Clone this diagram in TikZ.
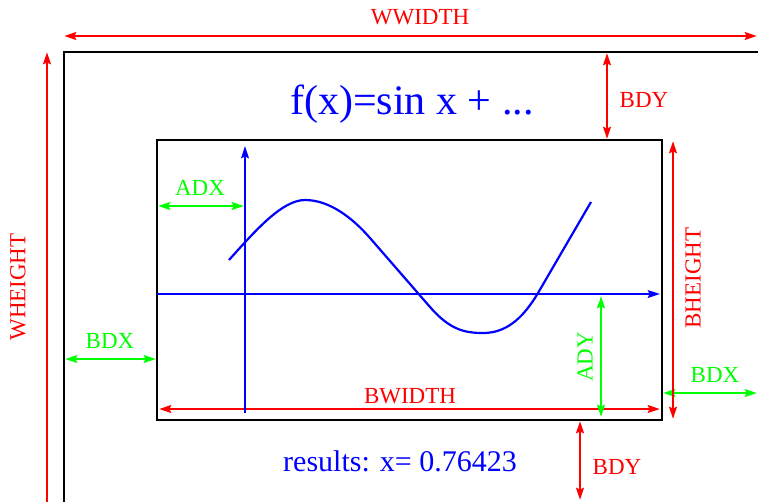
\documentclass[tikz,border=0pt]{standalone}
\usepackage{fontspec}
\setmainfont{Liberation Serif}
\usetikzlibrary{arrows.meta, positioning, calc}
\definecolor{dimred}{HTML}{FF0000}
\definecolor{dimgreen}{HTML}{00FF00}
\definecolor{plotblue}{HTML}{0000FF}
\tikzset{
  tip/.tip={Stealth[length=12pt,width=7.5pt,inset=1.5pt]},
  dimline/.style={line width=2.8pt, tip-tip},
  dimhalf/.style={line width=2.8pt, tip-},
  frame/.style={draw=black, line width=2.4pt},
  lbl/.style={font=\fontsize{23}{27}\selectfont, inner sep=0pt},
}
\begin{document}
\begin{tikzpicture}[x=1pt,y=-1pt]
  \useasboundingbox (0,0) rectangle (758,501);
  \clip (0,0) rectangle (758,501);
  % window and inner box
  \coordinate (wtl) at (64,52);
  \coordinate (btl) at (157,140);
  \coordinate (bbr) at (662,420);
  \draw[frame] (wtl) rectangle (800,560);
  \draw[frame] (btl) rectangle (bbr);
  % window dimensions
  \coordinate (ww1) at (64,36);
  \coordinate (ww2) at (757,36);
  \draw[dimline, dimred] (ww1) -- (ww2);
  \node[lbl, dimred] (wwidth) at (420,17) {WWIDTH};
  \coordinate (wh1) at (47,52);
  \coordinate (wh2) at (47,520);
  \draw[dimhalf, dimred] (wh1) -- (wh2);
  \node[lbl, dimred, rotate=90] (wheight) at (18,287) {WHEIGHT};
  % box offsets
  \coordinate (bdyt1) at (607,53);
  \coordinate (bdyt2) at (607,139);
  \draw[dimline, dimred] (bdyt1) -- (bdyt2);
  \node[lbl, dimred] (bdytop) at (644,100) {BDY};
  \coordinate (bdyb1) at (580,421);
  \coordinate (bdyb2) at (580,500);
  \draw[dimline, dimred] (bdyb1) -- (bdyb2);
  \node[lbl, dimred] (bdybot) at (617,467) {BDY};
  \coordinate (bdxl1) at (65,359);
  \coordinate (bdxl2) at (156,359);
  \draw[dimline, dimgreen] (bdxl1) -- (bdxl2);
  \node[lbl, dimgreen] (bdxleft) at (110,341) {BDX};
  \coordinate (bdxr1) at (663,393);
  \coordinate (bdxr2) at (757,393);
  \draw[dimline, dimgreen] (bdxr1) -- (bdxr2);
  \node[lbl, dimgreen] (bdxright) at (715,375) {BDX};
  % box dimensions
  \coordinate (bh1) at (673,141);
  \coordinate (bh2) at (673,419);
  \draw[dimline, dimred] (bh1) -- (bh2);
  \node[lbl, dimred, rotate=90] (bheight) at (693,278) {BHEIGHT};
  \coordinate (bw1) at (159,409);
  \coordinate (bw2) at (660,409);
  \draw[dimline, dimred] (bw1) -- (bw2);
  \node[lbl, dimred] (bwidth) at (410,396) {BWIDTH};
  % axes
  \coordinate (yax1) at (245,413);
  \coordinate (yax2) at (245,146);
  \coordinate (xax1) at (157,294);
  \coordinate (xax2) at (660,294);
  \draw[plotblue, line width=2.4pt, -tip] (yax1) -- (yax2);
  \draw[plotblue, line width=2.4pt, -tip] (xax1) -- (xax2);
  % axis offsets
  \coordinate (adx1) at (158,206);
  \coordinate (adx2) at (244,206);
  \draw[dimline, dimgreen] (adx1) -- (adx2);
  \node[lbl, dimgreen] (adx) at (200,188) {ADX};
  \coordinate (ady1) at (601,296);
  \coordinate (ady2) at (601,417);
  \draw[dimline, dimgreen] (ady1) -- (ady2);
  \node[lbl, dimgreen, rotate=90] (ady) at (585,357) {ADY};
  % curve
  \draw[plotblue, line width=2.2pt]
    (229,260) .. controls (255,231) and (282,200) .. (305,200)
    .. controls (330,200) and (353,218.5) .. (370,238) -- (430,307)
    .. controls (450,330) and (465,333) .. (483,333)
    .. controls (505,333) and (522,320) .. (538,293) -- (591,202);
  % texts
  \node[plotblue, font=\fontsize{42}{50}\selectfont, inner sep=0pt] (title) at (412,104) {f(x)=sin x + ...};
  \node[plotblue, font=\fontsize{30}{36}\selectfont, inner sep=0pt] (result) at (400,461) {results: x= 0.76423};
\end{tikzpicture}
\end{document}
